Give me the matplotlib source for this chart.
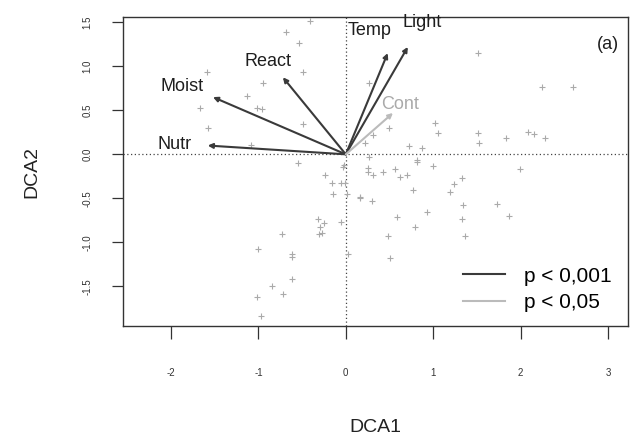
import matplotlib
matplotlib.use("Agg")
import matplotlib.pyplot as plt
from matplotlib.lines import Line2D

plt.rcParams["font.family"] = ["Liberation Sans", "DejaVu Sans"]
plt.rcParams["axes.unicode_minus"] = False

# site scores (DCA1, DCA2)
site_x = [-0.41, -0.69, -0.54, -1.59, -0.49, -0.95, -1.13, -1.67, -1.02, -0.96,
          -0.49, -1.58, -1.08, -0.55, -0.03, -0.24, -0.16, -0.05, -0.01, -0.15,
          0.01, 0.16, -0.32, -0.25, -0.30, -0.27, -0.31, -0.06, -0.73, -1.00,
          -0.61, -0.62, 0.02, -0.61, -0.84, -1.02, -0.72, -0.97,
          0.26, 1.51, 2.24, 2.60, 0.50, 1.02, 1.06, 1.51, 1.52, 1.83, 2.08, 2.15,
          2.28, 0.22, 0.31, 0.72, 0.87, 0.81, 0.82,
          0.26, 0.25, 0.25, 0.31, -0.02, 0.43, 0.56, 0.62, 0.70, 1.00, 1.99,
          1.33, 1.24, 1.19, 0.77, 0.16, 0.30, 1.73, 1.34, 0.93, 0.59, 1.87,
          1.33, 0.79, 0.48, 1.36, 0.51]
site_y = [1.51, 1.39, 1.27, 0.93, 0.94, 0.81, 0.66, 0.53, 0.53, 0.52,
          0.35, 0.30, 0.11, -0.10, -0.14, -0.23, -0.33, -0.33, -0.32, -0.45,
          -0.45, -0.49, -0.74, -0.78, -0.83, -0.89, -0.90, -0.77, -0.91, -1.07,
          -1.13, -1.17, -1.13, -1.42, -1.49, -1.62, -1.59, -1.84,
          0.81, 1.15, 0.76, 0.77, 0.30, 0.36, 0.24, 0.24, 0.13, 0.19, 0.25, 0.23,
          0.19, 0.13, 0.22, 0.10, 0.07, -0.07, -0.09,
          -0.03, -0.15, -0.20, -0.24, -0.12, -0.20, -0.17, -0.26, -0.23, -0.13, -0.17,
          -0.27, -0.34, -0.43, -0.40, -0.50, -0.53, -0.56, -0.58, -0.65, -0.71, -0.70,
          -0.74, -0.83, -0.93, -0.93, -1.18]

# environmental vectors
env_names = ["Nutr", "Moist", "React", "Temp", "Light", "Cont"]
env_x = [-1.58, -1.52, -0.72, 0.48, 0.71, 0.54]
env_y = [0.10, 0.65, 0.875, 1.15, 1.22, 0.47]
env_sig = ["p < 0,001", "p < 0,001", "p < 0,001", "p < 0,001", "p < 0,001", "p < 0,05"]
lab_x = [-1.96, -1.87, -0.89, 0.27, 0.87, 0.62]
lab_y = [0.11, 0.77, 1.06, 1.41, 1.50, 0.57]

sig_colors = {"p < 0,001": "#3a3a3a", "p < 0,05": "#bbbbbb"}
lab_colors = {"p < 0,001": "#1e1e1e", "p < 0,05": "#aaaaaa"}

fig = plt.figure(figsize=(6.32, 4.36), dpi=100)
ax = fig.add_axes([123/632, 1-326/436, 505/632, 309/436])

ax.axhline(0, color="#444444", lw=0.9, ls=(0, (1, 2)), zorder=1)
ax.axvline(0, color="#444444", lw=0.9, ls=(0, (1, 2)), zorder=1)

ax.scatter(site_x, site_y, marker="+", s=14, color="#aaaaaa", linewidths=0.8, zorder=2)

for n, x, y, s, lx, ly in zip(env_names, env_x, env_y, env_sig, lab_x, lab_y):
    ax.annotate("", xy=(x, y), xytext=(0, 0),
                arrowprops=dict(arrowstyle="-|>", color=sig_colors[s], lw=1.5,
                                mutation_scale=7, shrinkA=0, shrinkB=0), zorder=3)
    ax.text(lx, ly, n, ha="center", va="center", fontsize=13,
            color=lab_colors[s], zorder=4)

ax.text(3.0, 1.25, "(a)", ha="center", va="center", fontsize=13, color="#1e1e1e")

ax.set_xlim(-2.55, 3.23)
ax.set_ylim(-1.95, 1.56)
ax.set_xticks([-2, -1, 0, 1, 2, 3])
ax.set_yticks([-1.5, -1.0, -0.5, 0.0, 0.5, 1.0, 1.5])
ax.set_yticklabels(["-1.5", "-1.0", "-0.5", "0.0", "0.5", "1.0", "1.5"], rotation=90, va="center")
ax.tick_params(axis="x", length=9, width=0.9, pad=21, labelsize=7, colors="#333333")
ax.tick_params(axis="y", length=8, width=0.9, pad=14, labelsize=7, colors="#333333")
for sp in ax.spines.values():
    sp.set_color("#333333")
    sp.set_linewidth(1.0)

ax.set_xlabel("DCA1", fontsize=14, labelpad=30, color="#222222")
ax.set_ylabel("DCA2", fontsize=14, labelpad=30, color="#222222")

handles = [Line2D([0], [0], color=sig_colors["p < 0,001"], lw=1.5),
           Line2D([0], [0], color=sig_colors["p < 0,05"], lw=1.5)]
ax.legend(handles, ["p < 0,001", "p < 0,05"], loc="upper left", frameon=False,
          fontsize=15, handlelength=2.0, handletextpad=0.95, labelspacing=0.35,
          borderpad=0, borderaxespad=0, bbox_to_anchor=(0.673, 0.192))

fig.savefig("out.png", dpi=100)
